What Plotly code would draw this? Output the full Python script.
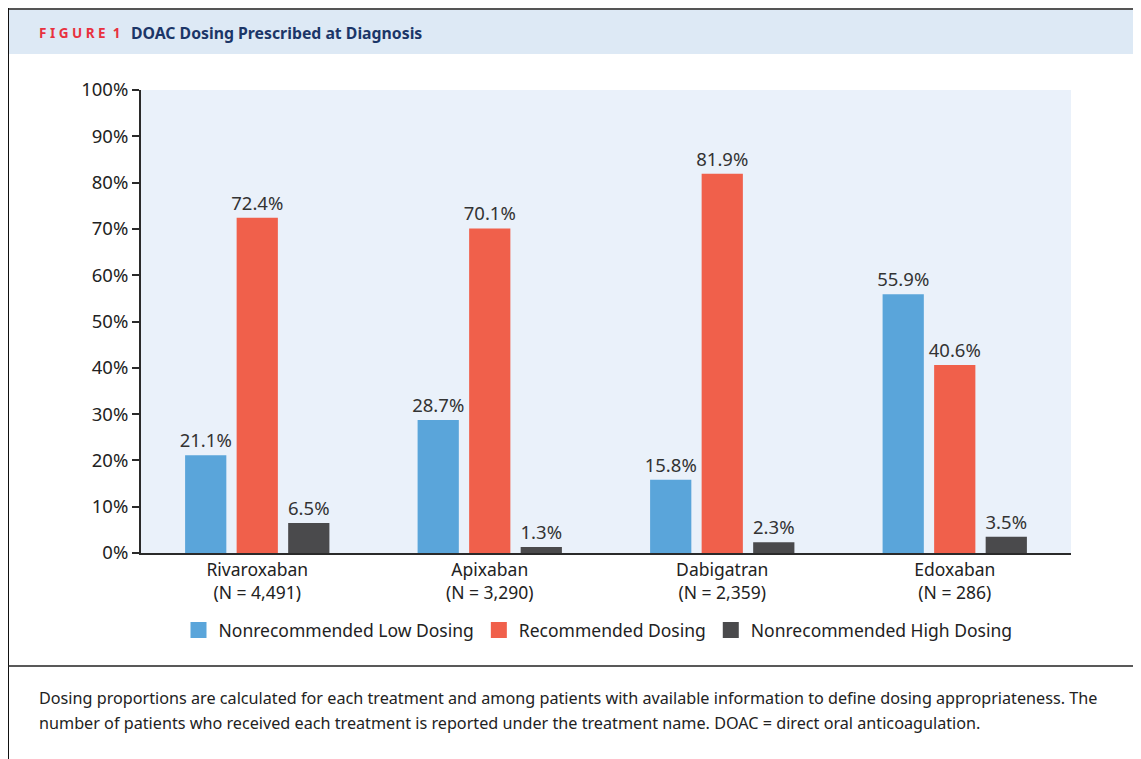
import plotly.graph_objects as go

categories = ["Rivaroxaban<br>(N = 4,491)", "Apixaban<br>(N = 3,290)",
              "Dabigatran<br>(N = 2,359)", "Edoxaban<br>(N = 286)"]
series_names = ["Nonrecommended Low Dosing", "Recommended Dosing", "Nonrecommended High Dosing"]
low_dosing = [21.1, 28.7, 15.8, 55.9]
recommended = [72.4, 70.1, 81.9, 40.6]
high_dosing = [6.5, 1.3, 2.3, 3.5]
colors = ["#5aa5da", "#f0604b", "#4a4a4c"]
y_ticks = [0, 10, 20, 30, 40, 50, 60, 70, 80, 90, 100]
y_tick_labels = ["0%", "10%", "20%", "30%", "40%", "50%", "60%", "70%", "80%", "90%", "100%"]

W, H = 1141, 759
OFF = 8  # page body margin offset
L, R, T, B = 141 - OFF, 1071 - OFF, 90 - OFF, 553 - OFF

def px(x):
    return (x - OFF - L) / (R - L)

def py(y):
    return (B - (y - OFF)) / (B - T)

FONT = "Noto Sans"

fig = go.Figure()
for name, vals, c in zip(series_names, [low_dosing, recommended, high_dosing], colors):
    fig.add_trace(go.Bar(
        x=categories, y=vals, name=name, marker=dict(color=c, line=dict(width=0)),
        texttemplate="%{y:.1f}%", textposition="outside", cliponaxis=False,
        constraintext="none", showlegend=False,
        textfont=dict(size=18.5, color="#333333", family=FONT),
    ))
# legend entries (square swatches)
for name, c in zip(series_names, colors):
    fig.add_trace(go.Scatter(
        x=[None], y=[None], mode="markers", name=name,
        marker=dict(symbol="square", size=16, color=c), showlegend=True,
    ))

shapes = [
    dict(type="rect", xref="paper", yref="paper", x0=px(8), x1=px(1136), y0=py(9), y1=py(54),
         fillcolor="#dde9f5", line=dict(width=0), layer="below"),
    dict(type="line", xref="paper", yref="paper", x0=px(7), x1=px(1137), y0=py(9), y1=py(9),
         line=dict(color="#555555", width=2)),
    dict(type="line", xref="paper", yref="paper", x0=px(8), x1=px(8), y0=py(8), y1=py(770),
         line=dict(color="#111111", width=2)),
    dict(type="line", xref="paper", yref="paper", x0=px(1137), x1=px(1137), y0=py(8), y1=py(770),
         line=dict(color="#111111", width=2)),
    dict(type="line", xref="paper", yref="paper", x0=px(8), x1=px(1137), y0=py(666), y1=py(666),
         line=dict(color="#222222", width=1.5)),
]

annotations = [
    dict(text="<b>F I G U R E  1</b>", xref="paper", yref="paper", x=px(37), y=py(33),
         xanchor="left", yanchor="middle", showarrow=False,
         font=dict(size=13.5, color="#e8313f", family=FONT)),
    dict(text="<b>DOAC Dosing Prescribed at Diagnosis</b>", xref="paper", yref="paper", x=px(129), y=py(33),
         xanchor="left", yanchor="middle", showarrow=False,
         font=dict(size=15.8, color="#1b3668", family=FONT)),
    dict(text="Dosing proportions are calculated for each treatment and among patients with available information to define dosing appropriateness. The",
         xref="paper", yref="paper", x=px(37), y=py(698), xanchor="left", yanchor="middle",
         align="left", showarrow=False,
         font=dict(size=16.2, color="#222222", family=FONT)),
    dict(text="number of patients who received each treatment is reported under the treatment name. DOAC = direct oral anticoagulation.",
         xref="paper", yref="paper", x=px(37), y=py(723), xanchor="left", yanchor="middle",
         align="left", showarrow=False,
         font=dict(size=16.2, color="#222222", family=FONT)),
]

fig.update_layout(
    width=W, height=H,
    margin=dict(l=L, r=W - R, t=T, b=H - B, pad=0),
    paper_bgcolor="white", plot_bgcolor="#eaf1fa",
    barmode="group", bargap=0.335, bargroupgap=0.2,
    font=dict(family=FONT, color="#222222", size=17),
    showlegend=True,
    legend=dict(orientation="h", x=px(598), xanchor="center", y=py(630), yanchor="middle",
                font=dict(size=17.5, color="#222222", family=FONT), itemwidth=30,
                bgcolor="rgba(0,0,0,0)", traceorder="normal"),
    shapes=shapes, annotations=annotations,
)
fig.update_xaxes(showline=True, linecolor="#2a2a2a", linewidth=2, ticks="", showgrid=False,
                 tickfont=dict(size=17.5, color="#222222", family=FONT))
fig.update_yaxes(range=[0, 100], tickvals=y_ticks, ticktext=y_tick_labels, showgrid=False, zeroline=False,
                 showline=True, linecolor="#2a2a2a", linewidth=2, ticks="outside", ticklen=7,
                 tickwidth=2, tickcolor="#2a2a2a", tickfont=dict(size=18.5, color="#222222", family=FONT))

fig.write_html("out.html")
